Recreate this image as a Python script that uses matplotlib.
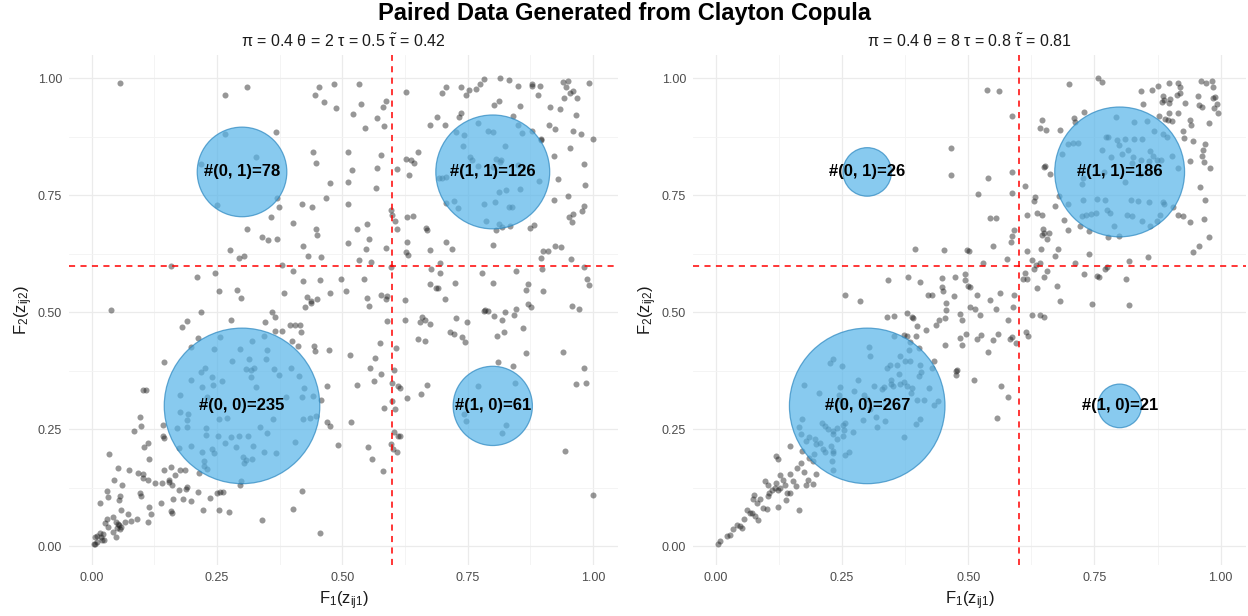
import matplotlib
matplotlib.use('Agg')
import matplotlib.pyplot as plt
import numpy as np

plt.rcParams['font.family'] = ['Liberation Sans', 'DejaVu Sans']
plt.rcParams['mathtext.fontset'] = 'custom'
plt.rcParams['mathtext.rm'] = 'Liberation Sans'
plt.rcParams['mathtext.it'] = 'Liberation Sans:italic'

# scatter points (F1, F2)
left_pts = [
    (0.057, 0.991), (0.310, 0.982), (0.267, 0.964), (0.453, 0.982), (0.484, 0.987), (0.445, 0.964),
    (0.463, 0.949), (0.487, 0.936), (0.368, 0.886), (0.267, 0.882), (0.327, 0.832), (0.218, 0.818),
    (0.442, 0.843), (0.447, 0.819), (0.512, 0.842), (0.475, 0.777), (0.512, 0.779), (0.468, 0.745),
    (0.370, 0.744), (0.251, 0.730), (0.373, 0.726), (0.419, 0.731), (0.440, 0.725), (0.511, 0.732),
    (0.358, 0.704), (0.401, 0.691), (0.309, 0.678), (0.447, 0.677), (0.449, 0.666), (0.339, 0.661),
    (0.352, 0.654), (0.370, 0.656), (0.511, 0.648), (0.277, 0.634), (0.422, 0.641), (0.303, 0.620),
    (0.294, 0.615), (0.431, 0.620), (0.458, 0.618), (0.159, 0.599), (0.379, 0.601), (0.210, 0.576),
    (0.246, 0.584), (0.402, 0.589), (0.421, 0.566), (0.456, 0.569), (0.497, 0.571), (0.255, 0.546),
    (0.289, 0.548), (0.383, 0.541), (0.475, 0.541), (0.507, 0.545), (0.298, 0.530), (0.429, 0.532),
    (0.450, 0.529), (0.437, 0.524), (0.438, 0.520), (0.426, 0.511), (0.038, 0.505),
    (0.534, 0.987), (0.537, 0.946), (0.522, 0.923), (0.545, 0.894), (0.570, 0.916), (0.582, 0.939),
    (0.587, 0.951), (0.584, 0.899), (0.626, 0.970), (0.674, 0.901), (0.688, 0.917), (0.704, 0.901),
    (0.699, 0.969), (0.706, 0.981), (0.737, 0.982), (0.732, 0.918), (0.737, 0.927), (0.747, 0.964),
    (0.752, 0.976), (0.767, 0.977), (0.775, 0.987), (0.783, 0.998), (0.815, 1.000), (0.833, 0.996),
    (0.850, 0.984), (0.812, 0.952), (0.802, 0.943), (0.854, 0.941), (0.840, 0.919), (0.878, 0.988),
    (0.878, 0.984), (0.894, 0.984), (0.890, 0.964), (0.940, 0.992), (0.950, 0.994), (0.947, 0.982),
    (0.955, 0.969), (0.960, 0.973), (0.967, 0.959), (0.992, 0.991), (0.943, 0.959), (0.915, 0.939),
    (0.934, 0.934), (0.966, 0.921), (0.912, 0.901), (0.924, 0.891), (0.960, 0.887), (0.976, 0.881),
    (0.999, 0.871), (0.896, 0.869), (0.954, 0.851), (0.982, 0.816), (0.984, 0.772), (0.922, 0.835),
    (0.931, 0.785), (0.922, 0.741), (0.950, 0.749), (0.982, 0.727), (0.978, 0.717), (0.960, 0.711),
    (0.952, 0.704), (0.958, 0.693), (0.882, 0.687), (0.874, 0.680),
    (0.727, 0.886), (0.743, 0.879), (0.771, 0.905), (0.790, 0.887), (0.800, 0.886), (0.850, 0.900),
    (0.858, 0.884), (0.879, 0.888), (0.897, 0.870), (0.740, 0.856), (0.824, 0.855), (0.755, 0.831),
    (0.758, 0.826), (0.817, 0.825), (0.814, 0.821), (0.800, 0.811), (0.771, 0.812), (0.850, 0.814),
    (0.807, 0.828), (0.692, 0.787), (0.699, 0.787), (0.707, 0.790), (0.892, 0.781), (0.827, 0.762),
    (0.812, 0.757), (0.854, 0.763), (0.706, 0.734), (0.722, 0.738), (0.730, 0.722), (0.782, 0.732),
    (0.804, 0.735), (0.832, 0.724), (0.839, 0.726), (0.787, 0.696), (0.812, 0.689), (0.807, 0.676),
    (0.818, 0.682), (0.835, 0.684),
    (0.520, 0.804), (0.567, 0.766), (0.569, 0.809), (0.577, 0.836), (0.626, 0.827), (0.637, 0.826),
    (0.642, 0.820), (0.650, 0.843), (0.632, 0.793), (0.609, 0.806), (0.598, 0.719), (0.600, 0.709),
    (0.629, 0.704), (0.640, 0.706), (0.606, 0.695), (0.610, 0.678), (0.666, 0.680), (0.669, 0.675),
    (0.529, 0.679), (0.550, 0.689), (0.554, 0.656), (0.548, 0.635), (0.587, 0.638), (0.629, 0.650),
    (0.626, 0.629), (0.630, 0.622), (0.674, 0.634), (0.707, 0.651), (0.718, 0.635), (0.533, 0.611),
    (0.558, 0.607), (0.598, 0.596), (0.677, 0.592), (0.694, 0.606), (0.695, 0.584), (0.779, 0.584),
    (0.800, 0.643), (0.846, 0.588), (0.897, 0.616), (0.900, 0.632), (0.910, 0.631), (0.924, 0.642),
    (0.937, 0.640), (0.956, 0.614), (0.982, 0.596), (0.987, 0.571), (0.992, 0.559), (0.898, 0.592),
    (0.847, 0.507), (0.866, 0.548), (0.870, 0.561), (0.900, 0.546), (0.801, 0.562), (0.724, 0.562),
    (0.675, 0.561), (0.687, 0.551), (0.690, 0.552), (0.704, 0.528), (0.544, 0.571), (0.549, 0.531),
    (0.554, 0.513), (0.577, 0.537), (0.587, 0.528), (0.590, 0.534), (0.624, 0.526), (0.784, 0.505),
    (0.870, 0.518), (0.877, 0.512), (0.958, 0.514), (0.972, 0.507),
    (0.218, 0.501), (0.191, 0.481), (0.180, 0.469), (0.278, 0.483), (0.360, 0.500), (0.365, 0.490),
    (0.345, 0.479), (0.365, 0.459), (0.380, 0.460), (0.395, 0.472), (0.405, 0.472), (0.415, 0.472),
    (0.418, 0.457), (0.400, 0.438), (0.412, 0.427), (0.443, 0.429), (0.445, 0.418), (0.473, 0.420),
    (0.144, 0.394), (0.102, 0.333), (0.109, 0.333), (0.470, 0.343), (0.457, 0.312), (0.097, 0.276),
    (0.099, 0.256), (0.085, 0.247), (0.142, 0.259), (0.142, 0.236), (0.145, 0.231), (0.469, 0.265),
    (0.475, 0.256), (0.491, 0.217), (0.112, 0.220), (0.105, 0.212), (0.034, 0.197), (0.115, 0.187),
    (0.052, 0.167), (0.075, 0.163), (0.093, 0.157), (0.102, 0.155), (0.102, 0.145), (0.113, 0.141),
    (0.045, 0.142), (0.061, 0.130), (0.127, 0.135), (0.141, 0.136), (0.154, 0.142), (0.159, 0.169),
    (0.145, 0.162), (0.167, 0.152), (0.177, 0.162), (0.187, 0.164), (0.161, 0.132), (0.155, 0.137),
    (0.175, 0.121), (0.188, 0.123), (0.190, 0.126), (0.212, 0.117), (0.182, 0.102), (0.163, 0.102),
    (0.199, 0.096), (0.236, 0.103), (0.250, 0.113), (0.257, 0.115), (0.262, 0.115), (0.222, 0.077),
    (0.255, 0.078), (0.275, 0.073), (0.340, 0.057), (0.402, 0.080), (0.420, 0.119), (0.456, 0.028),
    (0.030, 0.119), (0.032, 0.105), (0.057, 0.107), (0.055, 0.098), (0.016, 0.092), (0.096, 0.114),
    (0.099, 0.108), (0.114, 0.085), (0.139, 0.093), (0.158, 0.076), (0.161, 0.071), (0.119, 0.070),
    (0.112, 0.052), (0.090, 0.059), (0.073, 0.068), (0.059, 0.077), (0.042, 0.063), (0.031, 0.058),
    (0.026, 0.049), (0.032, 0.041), (0.048, 0.051), (0.055, 0.045), (0.058, 0.041), (0.050, 0.038),
    (0.052, 0.048), (0.067, 0.052), (0.078, 0.054), (0.057, 0.037), (0.042, 0.030), (0.049, 0.019),
    (0.023, 0.027), (0.017, 0.028), (0.018, 0.020), (0.010, 0.023), (0.007, 0.019), (0.004, 0.005),
    (0.010, 0.009), (0.007, 0.004), (0.021, 0.013), (0.025, 0.014),
    (0.256, 0.447), (0.213, 0.445), (0.198, 0.425), (0.245, 0.422), (0.295, 0.422), (0.320, 0.438),
    (0.343, 0.450), (0.349, 0.420), (0.347, 0.400), (0.313, 0.401), (0.281, 0.397), (0.226, 0.382),
    (0.218, 0.373), (0.308, 0.379), (0.317, 0.377), (0.323, 0.380), (0.317, 0.361), (0.364, 0.379),
    (0.374, 0.367), (0.397, 0.381), (0.413, 0.363), (0.241, 0.362), (0.261, 0.353), (0.198, 0.355),
    (0.220, 0.340), (0.242, 0.345), (0.327, 0.340), (0.424, 0.339), (0.419, 0.319), (0.441, 0.321),
    (0.387, 0.319), (0.177, 0.324), (0.230, 0.319), (0.255, 0.271), (0.270, 0.274), (0.176, 0.288),
    (0.192, 0.283), (0.191, 0.269), (0.171, 0.253), (0.191, 0.255), (0.228, 0.253), (0.228, 0.237),
    (0.252, 0.236), (0.279, 0.234), (0.293, 0.236), (0.311, 0.236), (0.335, 0.254), (0.350, 0.243),
    (0.361, 0.272), (0.422, 0.273), (0.435, 0.274), (0.447, 0.278), (0.405, 0.222), (0.175, 0.209),
    (0.198, 0.214), (0.221, 0.202), (0.241, 0.208), (0.245, 0.199), (0.266, 0.221), (0.287, 0.212),
    (0.322, 0.215), (0.343, 0.201), (0.367, 0.199), (0.302, 0.191), (0.308, 0.185), (0.319, 0.187),
    (0.303, 0.178), (0.224, 0.183), (0.225, 0.172), (0.230, 0.165), (0.215, 0.157), (0.298, 0.139),
    (0.295, 0.131),
    (0.589, 0.481), (0.624, 0.484), (0.654, 0.479), (0.659, 0.490), (0.664, 0.483), (0.674, 0.475),
    (0.726, 0.488), (0.748, 0.479), (0.782, 0.502), (0.790, 0.502), (0.802, 0.493), (0.818, 0.483),
    (0.824, 0.500), (0.842, 0.495), (0.860, 0.467), (0.714, 0.458), (0.722, 0.454), (0.739, 0.447),
    (0.744, 0.437), (0.650, 0.443), (0.664, 0.439), (0.809, 0.449), (0.822, 0.457), (0.576, 0.434),
    (0.607, 0.424), (0.516, 0.409), (0.566, 0.402), (0.556, 0.382), (0.578, 0.368), (0.604, 0.377),
    (0.564, 0.353), (0.530, 0.345), (0.599, 0.348), (0.612, 0.343), (0.615, 0.338), (0.628, 0.317),
    (0.656, 0.325), (0.669, 0.344), (0.584, 0.296), (0.600, 0.310), (0.606, 0.293), (0.518, 0.265),
    (0.604, 0.244), (0.612, 0.236), (0.615, 0.235), (0.597, 0.219), (0.602, 0.208), (0.609, 0.201),
    (0.552, 0.213), (0.559, 0.187), (0.582, 0.161), (0.810, 0.393), (0.840, 0.385), (0.866, 0.413),
    (0.940, 0.415), (0.982, 0.380), (0.966, 0.346), (0.986, 0.350), (0.944, 0.203), (0.999, 0.109),
    (0.770, 0.342), (0.845, 0.349), (0.742, 0.283), (0.747, 0.267), (0.827, 0.259), (0.819, 0.242),
]

right_pts = [
    (0.465, 0.851), (0.465, 0.793), (0.394, 0.636), (0.452, 0.634), (0.341, 0.570), (0.380, 0.575),
    (0.404, 0.565), (0.449, 0.574), (0.473, 0.576), (0.448, 0.554), (0.450, 0.546), (0.257, 0.536),
    (0.285, 0.525), (0.420, 0.536), (0.429, 0.536), (0.471, 0.534), (0.456, 0.519), (0.457, 0.505),
    (0.538, 0.975), (0.562, 0.973), (0.586, 0.919), (0.699, 0.988), (0.758, 1.000), (0.766, 0.993),
    (0.647, 0.912), (0.643, 0.893), (0.654, 0.889), (0.682, 0.889), (0.710, 0.916), (0.712, 0.907),
    (0.729, 0.929), (0.843, 0.973), (0.865, 0.975), (0.875, 0.984), (0.898, 0.991), (0.915, 0.991),
    (0.919, 0.982), (0.962, 0.994), (0.971, 0.991), (0.983, 0.994), (0.985, 0.982), (0.885, 0.962),
    (0.888, 0.954), (0.900, 0.955), (0.883, 0.950), (0.898, 0.948), (0.919, 0.969), (0.913, 0.964),
    (0.929, 0.948), (0.956, 0.962), (0.958, 0.944), (0.963, 0.939), (0.985, 0.959), (0.989, 0.961),
    (0.992, 0.946), (0.994, 0.927), (0.987, 0.937), (0.976, 0.905), (0.846, 0.946), (0.878, 0.920),
    (0.898, 0.925), (0.889, 0.914), (0.896, 0.911), (0.904, 0.909), (0.916, 0.925), (0.939, 0.911),
    (0.942, 0.900), (0.925, 0.887), (0.927, 0.873), (0.945, 0.866), (0.970, 0.859), (0.965, 0.846),
    (0.964, 0.834), (0.968, 0.821), (0.978, 0.809), (0.959, 0.768), (0.970, 0.739), (0.939, 0.823),
    (0.916, 0.707), (0.925, 0.705), (0.939, 0.694), (0.967, 0.699), (0.976, 0.661), (0.958, 0.641),
    (0.945, 0.629), (0.857, 0.619), (0.818, 0.609), (0.740, 0.624), (0.711, 0.605), (0.672, 0.621),
    (0.678, 0.636), (0.644, 0.636), (0.617, 0.630), (0.586, 0.800), (0.540, 0.786), (0.519, 0.753),
    (0.587, 0.754), (0.613, 0.769), (0.633, 0.746), (0.630, 0.738), (0.636, 0.713), (0.647, 0.709),
    (0.617, 0.709), (0.672, 0.727), (0.689, 0.697), (0.697, 0.675), (0.649, 0.679), (0.651, 0.670),
    (0.646, 0.666), (0.661, 0.669), (0.657, 0.656), (0.590, 0.675), (0.587, 0.663), (0.584, 0.651),
    (0.550, 0.641), (0.544, 0.702), (0.555, 0.702), (0.498, 0.634), (0.502, 0.631), (0.530, 0.606),
    (0.577, 0.614), (0.626, 0.612), (0.642, 0.605), (0.635, 0.601), (0.631, 0.593), (0.657, 0.588),
    (0.613, 0.584), (0.609, 0.571), (0.616, 0.572), (0.637, 0.552), (0.651, 0.576), (0.675, 0.556),
    (0.730, 0.582), (0.755, 0.577), (0.759, 0.576), (0.771, 0.593), (0.774, 0.596), (0.812, 0.571),
    (0.746, 0.518), (0.819, 0.516), (0.493, 0.582), (0.493, 0.568), (0.499, 0.557), (0.503, 0.554),
    (0.517, 0.536), (0.543, 0.526), (0.563, 0.541), (0.590, 0.536), (0.589, 0.511), (0.555, 0.507),
    (0.503, 0.511), (0.513, 0.507), (0.650, 0.811), (0.652, 0.812), (0.682, 0.525),
    (0.792, 0.918), (0.828, 0.906), (0.854, 0.909), (0.869, 0.888), (0.885, 0.882), (0.893, 0.874),
    (0.773, 0.875), (0.777, 0.875), (0.794, 0.868), (0.810, 0.870), (0.828, 0.870), (0.845, 0.871),
    (0.698, 0.859), (0.708, 0.861), (0.718, 0.861), (0.766, 0.846), (0.799, 0.857), (0.804, 0.839),
    (0.817, 0.846), (0.860, 0.844), (0.685, 0.839), (0.782, 0.832), (0.827, 0.832), (0.843, 0.825),
    (0.867, 0.834), (0.873, 0.825), (0.882, 0.826), (0.825, 0.819), (0.858, 0.823), (0.662, 0.796),
    (0.903, 0.834), (0.916, 0.809), (0.769, 0.799), (0.728, 0.788), (0.725, 0.774), (0.810, 0.779),
    (0.840, 0.795), (0.680, 0.748), (0.697, 0.732), (0.727, 0.739), (0.756, 0.743), (0.771, 0.739),
    (0.822, 0.739), (0.837, 0.737), (0.858, 0.736), (0.886, 0.736), (0.888, 0.731), (0.775, 0.718),
    (0.780, 0.712), (0.726, 0.705), (0.734, 0.707), (0.744, 0.711), (0.753, 0.712), (0.815, 0.707),
    (0.825, 0.705), (0.845, 0.696), (0.861, 0.684), (0.873, 0.696), (0.879, 0.709), (0.789, 0.684),
    (0.721, 0.684), (0.740, 0.674), (0.776, 0.661), (0.799, 0.664), (0.906, 0.725),
    (0.339, 0.491), (0.354, 0.493), (0.378, 0.499), (0.389, 0.490), (0.391, 0.488), (0.399, 0.470),
    (0.417, 0.463), (0.437, 0.472), (0.442, 0.483), (0.454, 0.488), (0.483, 0.497), (0.488, 0.483),
    (0.495, 0.453), (0.483, 0.445), (0.488, 0.431), (0.454, 0.431), (0.432, 0.397), (0.476, 0.374),
    (0.478, 0.377), (0.476, 0.365), (0.354, 0.450), (0.372, 0.452), (0.379, 0.450), (0.397, 0.449),
    (0.385, 0.436), (0.403, 0.424), (0.382, 0.420), (0.364, 0.406), (0.374, 0.397), (0.385, 0.397),
    (0.360, 0.387), (0.345, 0.388), (0.339, 0.381), (0.362, 0.368), (0.405, 0.387), (0.406, 0.373),
    (0.428, 0.381), (0.303, 0.426), (0.306, 0.406), (0.226, 0.392), (0.232, 0.400), (0.250, 0.385),
    (0.281, 0.356), (0.313, 0.343), (0.329, 0.336), (0.333, 0.340), (0.348, 0.356), (0.347, 0.346),
    (0.351, 0.343), (0.364, 0.347), (0.372, 0.351), (0.378, 0.342), (0.389, 0.338), (0.403, 0.363),
    (0.423, 0.338), (0.386, 0.328), (0.399, 0.313), (0.412, 0.312), (0.440, 0.310), (0.432, 0.301),
    (0.405, 0.272), (0.397, 0.262), (0.373, 0.233), (0.174, 0.345), (0.204, 0.328), (0.247, 0.340),
    (0.245, 0.324), (0.248, 0.312), (0.252, 0.305), (0.273, 0.331), (0.293, 0.324), (0.300, 0.315),
    (0.306, 0.293), (0.292, 0.269), (0.318, 0.276), (0.336, 0.267), (0.319, 0.254), (0.171, 0.271),
    (0.164, 0.255), (0.169, 0.241), (0.184, 0.234), (0.196, 0.229), (0.210, 0.264), (0.217, 0.258),
    (0.222, 0.251), (0.232, 0.246), (0.232, 0.240), (0.240, 0.253), (0.253, 0.259), (0.257, 0.264),
    (0.255, 0.248), (0.252, 0.235), (0.272, 0.244), (0.199, 0.219), (0.206, 0.221), (0.179, 0.224),
    (0.212, 0.208), (0.216, 0.201), (0.229, 0.215), (0.232, 0.203), (0.233, 0.199), (0.195, 0.197),
    (0.257, 0.196), (0.263, 0.202), (0.240, 0.229), (0.230, 0.183), (0.232, 0.164), (0.147, 0.214),
    (0.171, 0.203), (0.184, 0.189), (0.192, 0.183), (0.120, 0.192), (0.123, 0.187), (0.098, 0.139),
    (0.104, 0.130), (0.120, 0.135), (0.128, 0.153), (0.134, 0.142), (0.147, 0.155), (0.154, 0.139),
    (0.158, 0.128), (0.161, 0.167), (0.169, 0.178), (0.175, 0.158), (0.182, 0.142), (0.192, 0.133),
    (0.179, 0.130), (0.199, 0.155), (0.138, 0.132), (0.128, 0.125), (0.118, 0.125), (0.111, 0.121),
    (0.106, 0.114), (0.103, 0.107), (0.123, 0.121), (0.141, 0.114), (0.147, 0.113), (0.139, 0.098),
    (0.088, 0.101), (0.076, 0.110), (0.073, 0.100), (0.081, 0.093), (0.093, 0.082), (0.101, 0.080),
    (0.124, 0.085), (0.165, 0.078), (0.062, 0.077), (0.071, 0.071), (0.078, 0.064), (0.083, 0.057),
    (0.056, 0.059), (0.067, 0.071), (0.042, 0.045), (0.052, 0.039), (0.035, 0.037), (0.048, 0.043),
    (0.022, 0.021), (0.028, 0.025), (0.009, 0.011), (0.005, 0.004),
    (0.523, 0.495), (0.579, 0.484), (0.627, 0.495), (0.643, 0.495), (0.651, 0.491), (0.518, 0.443),
    (0.526, 0.452), (0.549, 0.440), (0.559, 0.454), (0.583, 0.443), (0.586, 0.447), (0.594, 0.434),
    (0.614, 0.457), (0.618, 0.449), (0.539, 0.416), (0.511, 0.356), (0.565, 0.342), (0.578, 0.318),
    (0.557, 0.275),
]

# quadrant summaries
quad_x = [0.3, 0.3, 0.8, 0.8]
quad_y = [0.3, 0.8, 0.3, 0.8]
quad_names = ['(0, 0)', '(0, 1)', '(1, 0)', '(1, 1)']
left_counts = [235, 78, 61, 126]
right_counts = [267, 26, 21, 186]

subtitles = [
    r'π = 0.4 θ = 2 τ = 0.5 $\tilde{\mathregular{τ}}$ = 0.42',
    r'π = 0.4 θ = 8 τ = 0.8 $\tilde{\mathregular{τ}}$ = 0.81',
]
cut = 0.6
ticks = [0, 0.25, 0.5, 0.75, 1.0]
tick_labels = ['0.00', '0.25', '0.50', '0.75', '1.00']

fig = plt.figure(figsize=(12.48, 6.16), dpi=100)
ax1 = fig.add_axes([0.0553, 0.0828, 0.44, 0.828])
ax2 = fig.add_axes([0.5553, 0.0828, 0.443, 0.828])

max_diam = 112  # points, biggest bubble in each panel

for ax, pts, counts, sub in [(ax1, left_pts, left_counts, subtitles[0]),
                             (ax2, right_pts, right_counts, subtitles[1])]:
    px = [p[0] for p in pts]
    py = [p[1] for p in pts]
    ax.scatter(px, py, s=19, color='#1a1a1a', alpha=0.45, linewidths=0, zorder=2)

    counts = np.array(counts)
    sizes = (max_diam * np.sqrt(counts / counts.max())) ** 2
    ax.scatter(quad_x, quad_y, s=sizes, color='#56B4E9', alpha=0.7,
               edgecolors='#2A86BF', linewidths=0.9, zorder=3)
    for qx, qy, nm, c in zip(quad_x, quad_y, quad_names, counts):
        ax.text(qx, qy, f'#{nm}={c}', ha='center', va='center',
                fontsize=12, fontweight='bold', color='black', zorder=5)

    ax.axvline(cut, color='red', lw=1.1, ls=(0, (4, 3.5)), zorder=4)
    ax.axhline(cut, color='red', lw=1.1, ls=(0, (4, 3.5)), zorder=4)

    ax.set_xlim(-0.045, 1.05)
    ax.set_ylim(-0.04, 1.05)
    ax.set_xticks(ticks)
    ax.set_xticklabels(tick_labels)
    ax.set_yticks(ticks)
    ax.set_yticklabels(tick_labels)
    ax.set_xticks([0.125, 0.375, 0.625, 0.875], minor=True)
    ax.set_yticks([0.125, 0.375, 0.625, 0.875], minor=True)
    ax.grid(True, which='major', color='#EBEBEB', lw=0.9, zorder=0)
    ax.grid(True, which='minor', color='#F3F3F3', lw=0.6, zorder=0)
    ax.set_axisbelow(True)
    for sp in ax.spines.values():
        sp.set_visible(False)
    ax.tick_params(which='both', length=0, labelsize=9, labelcolor='#4D4D4D', pad=5)

    ax.set_xlabel(r'$\mathregular{F_1(z_{ij1})}$', fontsize=12, color='#1a1a1a', labelpad=4)
    ax.set_ylabel(r'$\mathregular{F_2(z_{ij2})}$', fontsize=12, color='#1a1a1a', labelpad=2)
    ax.set_title(sub, fontsize=11.5, color='#1a1a1a', pad=6)

fig.suptitle('Paired Data Generated from Clayton Copula', fontsize=17,
             fontweight='bold', y=0.997)

fig.savefig('out.png', dpi=100)
